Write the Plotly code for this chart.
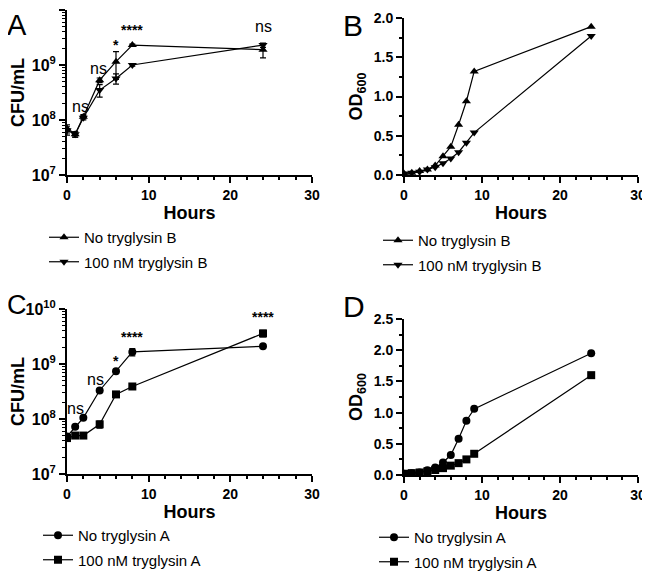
import plotly.graph_objects as go

hours_cfu = [0, 1, 2, 4, 6, 8, 24]
hours_od = [0, 1, 2, 3, 4, 5, 6, 7, 8, 9, 24]

# Panel A (CFU/mL), tryglysin B
a_no = [7.0e7, 5.5e7, 1.15e8, 5.3e8, 1.15e9, 2.3e9, 1.9e9]
a_no_err = [1.2e7, 0.6e7, 0.1e8, 0.5e8, 0.6e9, 0.1e9, 0.55e9]
a_100 = [6.5e7, 5.5e7, 1.1e8, 3.5e8, 5.7e8, 1.0e9, 2.3e9]
a_100_err = [1.2e7, 0.6e7, 0.1e8, 0.9e8, 1.2e8, 0.05e9, 0.2e9]

# Panel B (OD600), tryglysin B
b_no = [0.02, 0.03, 0.05, 0.07, 0.12, 0.24, 0.36, 0.64, 0.94, 1.32, 1.89]
b_100 = [0.02, 0.03, 0.04, 0.07, 0.10, 0.15, 0.21, 0.29, 0.41, 0.54, 1.77]

# Panel C (CFU/mL), tryglysin A
c_no = [4.8e7, 7.2e7, 1.05e8, 3.3e8, 7.4e8, 1.66e9, 2.1e9]
c_no_err = [0.3e7, 0.4e7, 0.05e8, 0.2e8, 0.4e8, 0.25e9, 0.1e9]
c_100 = [4.5e7, 5.0e7, 5.0e7, 8.0e7, 2.8e8, 3.9e8, 3.6e9]
c_100_err = [0.3e7, 0.3e7, 0.3e7, 1.2e7, 0.2e8, 0.3e8, 0.5e9]

# Panel D (OD600), tryglysin A
d_no = [0.02, 0.03, 0.04, 0.075, 0.12, 0.20, 0.32, 0.58, 0.87, 1.06, 1.95]
d_100 = [0.02, 0.03, 0.04, 0.06, 0.08, 0.11, 0.15, 0.19, 0.25, 0.34, 1.60]

# significance labels: (x, log10 y, text)
sig_a = [(1.7, 8.25, "ns"), (3.9, 8.94, "ns"), (6.0, 9.36, "*"), (8.0, 9.64, "****"), (24.0, 9.7, "ns")]
sig_c = [(1.0, 8.19, "ns"), (3.5, 8.72, "ns"), (6.0, 9.05, "*"), (8.0, 9.5, "****"), (24.0, 9.85, "****")]

FONT = "Liberation Sans, Arial, sans-serif"
BLK = "black"

fig = go.Figure()

def add(x, y, err, sym, name, xa, ya, leg):
    kw = {}
    if err is not None:
        kw["error_y"] = dict(type="data", array=err, visible=True, color=BLK, thickness=1.2, width=3)
    fig.add_trace(go.Scatter(
        x=x, y=y, mode="lines+markers", name=name,
        line=dict(color=BLK, width=1.2),
        marker=dict(symbol=sym, size=8, color=BLK),
        xaxis=xa, yaxis=ya, legend=leg, legendgroup=name + leg, **kw))

add(hours_cfu, a_no, a_no_err, "triangle-up", "No tryglysin B", "x", "y", "legend")
add(hours_cfu, a_100, a_100_err, "triangle-down", "100 nM tryglysin B", "x", "y", "legend")
add(hours_od, b_no, None, "triangle-up", "No tryglysin B", "x2", "y2", "legend2")
add(hours_od, b_100, None, "triangle-down", "100 nM tryglysin B", "x2", "y2", "legend2")
add(hours_cfu, c_no, c_no_err, "circle", "No tryglysin A", "x3", "y3", "legend3")
add(hours_cfu, c_100, c_100_err, "square", "100 nM tryglysin A", "x3", "y3", "legend3")
add(hours_od, d_no, None, "circle", "No tryglysin A", "x4", "y4", "legend4")
add(hours_od, d_100, None, "square", "100 nM tryglysin A", "x4", "y4", "legend4")

# page body has an 8px margin, so the figure is offset by 8px
OFF = 8
W, H = 650 - OFF, 600
def px(v): return (v - OFF) / W
def py(v): return 1 - (v - OFF) / H

titlefont = dict(family=FONT, size=18, color=BLK)

def xax(x0, x1, anchor):
    return dict(domain=[px(x0), px(x1)], range=[0, 30], anchor=anchor, automargin=False,
                tickvals=[0, 10, 20, 30], ticks="outside", ticklen=6, tickwidth=2, tickcolor=BLK,
                showline=True, linewidth=2, linecolor=BLK, showgrid=False, zeroline=False,
                tickfont=dict(family=FONT, size=14, color=BLK, weight="bold"),
                title=dict(text="<b>Hours</b>", font=titlefont, standoff=5),
                minor=dict(ticks="outside", ticklen=3, tickwidth=1.5, dtick=2, tickcolor=BLK, showgrid=False))

def yax_log(y0, y1, anchor):
    return dict(domain=[py(y1), py(y0)], type="log", range=[7, 10], anchor=anchor, automargin=False,
                tickvals=[1e7, 1e8, 1e9, 1e10],
                ticktext=["<b>10<sup>7</sup></b>", "<b>10<sup>8</sup></b>", "<b>10<sup>9</sup></b>", "<b>10<sup>10</sup></b>"],
                ticks="outside", ticklen=6, tickwidth=2, tickcolor=BLK,
                showline=True, linewidth=2, linecolor=BLK, showgrid=False, zeroline=False,
                tickfont=dict(family=FONT, size=16, color=BLK),
                title=dict(text="<b>CFU/mL</b>", font=titlefont, standoff=4),
                minor=dict(ticks="outside", ticklen=3, tickwidth=1.2, dtick="D1", tickcolor=BLK, showgrid=False))

def yax_lin(y0, y1, anchor, top, dt):
    return dict(domain=[py(y1), py(y0)], range=[0, top], anchor=anchor, automargin=False,
                dtick=dt, tickformat=".1f", ticks="outside", ticklen=6, tickwidth=2, tickcolor=BLK,
                showline=True, linewidth=2, linecolor=BLK, showgrid=False, zeroline=False,
                tickfont=dict(family=FONT, size=14, color=BLK, weight="bold"),
                title=dict(text="<b>OD<sub>600</sub></b>", font=titlefont, standoff=6),
                minor=dict(ticks="outside", ticklen=3, tickwidth=1.5, dtick=dt / 2, tickcolor=BLK, showgrid=False))

def legend(x, ytop):
    return dict(x=px(x), y=py(ytop), xanchor="left", yanchor="top",
                font=dict(family=FONT, size=15, color=BLK), bgcolor="rgba(0,0,0,0)",
                traceorder="grouped", tracegroupgap=2, itemwidth=30)

fig.update_layout(
    width=W, height=H, margin=dict(l=0, r=0, t=0, b=0, autoexpand=False),
    plot_bgcolor="white", paper_bgcolor="white", showlegend=True,
    xaxis=xax(67, 312, "y"), yaxis=yax_log(10, 175, "x"),
    xaxis2=xax(404, 638, "y2"), yaxis2=yax_lin(18, 175, "x2", 2.0, 0.5),
    xaxis3=xax(67, 312, "y3"), yaxis3=yax_log(309, 474, "x3"),
    xaxis4=xax(404, 638, "y4"), yaxis4=yax_lin(319, 475, "x4", 2.5, 0.5),
    legend=legend(44, 221), legend2=legend(378, 224),
    legend3=legend(38, 519), legend4=legend(374, 521),
)

ann = []
for (x, ly, t) in sig_a:
    ann.append(dict(x=x, y=ly, xref="x", yref="y", text=t, showarrow=False,
                    font=dict(family=FONT, size=16 if t == "ns" else 14, color=BLK,
                              weight="normal" if t == "ns" else "bold")))
for (x, ly, t) in sig_c:
    ann.append(dict(x=x, y=ly, xref="x3", yref="y3", text=t, showarrow=False,
                    font=dict(family=FONT, size=16 if t == "ns" else 14, color=BLK,
                              weight="normal" if t == "ns" else "bold")))
panel_letters = ["A", "B", "C", "D"]
for (lx, ly, fs), t in zip([(6, 8, 29), (342, 8, 30), (6, 289, 27), (342, 289, 30)], panel_letters):
    ann.append(dict(x=px(lx), y=py(ly), xref="paper", yref="paper", xanchor="left", yanchor="top",
                    text=t, showarrow=False, borderpad=0, font=dict(family=FONT, size=fs, color=BLK)))
fig.update_layout(annotations=ann)

fig.write_html("out.html")
